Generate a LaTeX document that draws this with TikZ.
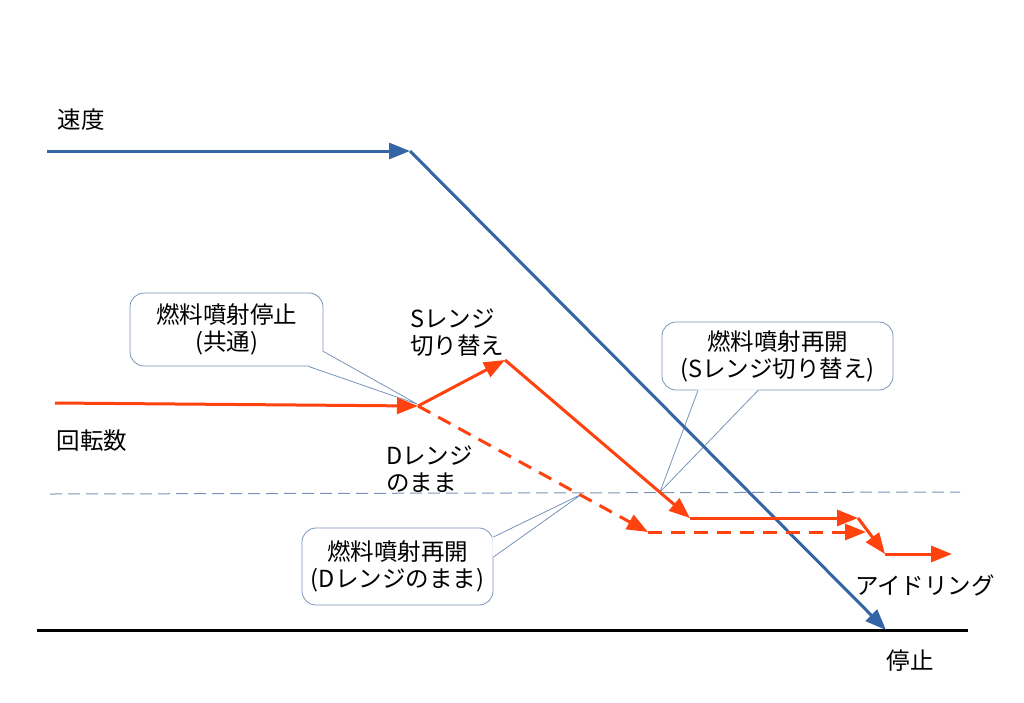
\documentclass[tikz,border=0pt]{standalone}
\usepackage{fontspec}
\setmainfont{Noto Sans CJK JP}
\usetikzlibrary{arrows.meta}

\definecolor{speedblue}{HTML}{3465A4}
\definecolor{rpmorange}{HTML}{FF420E}
\definecolor{noteline}{HTML}{7A93B8}

\begin{document}
\begin{tikzpicture}[x=1pt, y=-1pt,
    txt/.style={font=\fontsize{23.5}{27}\selectfont, inner sep=0pt, align=center},
    bubble/.style={draw=noteline, line width=0.8pt, fill=white, rounded corners=14pt,
        inner sep=0pt, align=center, font=\fontsize{23.5}{27}\selectfont},
    pointer/.style={draw=noteline, line width=0.8pt},
    speed/.style={draw=speedblue, line width=3pt, -{Triangle[length=21pt,width=16pt]}},
    rpm/.style={draw=rpmorange, line width=3pt, -{Triangle[length=21pt,width=16pt]}},
    rpmd/.style={rpm, dash pattern=on 14pt off 9pt},
    level/.style={draw=noteline, line width=1pt, dash pattern=on 12pt off 6pt}
]
    \useasboundingbox (0,0) rectangle (1024,702);

    % callouts
    \node[bubble, minimum width=193pt, minimum height=73pt] (stopnote) at (226.5,329.5)
        {燃料噴射停止\\(共通)};
    \node[bubble, minimum width=231pt, minimum height=68pt] (snote) at (777.5,356)
        {燃料噴射再開\\(Sレンジ切り替え)};
    \node[bubble, minimum width=191pt, minimum height=77pt] (dnote) at (397.5,566.5)
        {燃料噴射再開\\(Dレンジのまま)};
    \coordinate (stoptip) at (417,404);
    \coordinate (stip) at (660,492);
    \coordinate (dtip) at (582,494);

    \fill[white] ([xshift=-1pt,yshift=15pt]stopnote.south east) -- (stoptip)
        -- ([xshift=-15pt,yshift=1pt]stopnote.south east) -- cycle;
    \draw[pointer] ([yshift=15pt]stopnote.south east) -- (stoptip)
        -- ([xshift=-15pt]stopnote.south east);
    \fill[white] ([xshift=-79.5pt,yshift=1pt]snote.south) -- (stip)
        -- ([xshift=-19.5pt,yshift=1pt]snote.south) -- cycle;
    \draw[pointer] ([xshift=-79.5pt]snote.south) -- (stip)
        -- ([xshift=-19.5pt]snote.south);
    \fill[white] ([xshift=-1pt,yshift=29.5pt]dnote.east) -- (dtip)
        -- ([xshift=-1pt,yshift=9.5pt]dnote.east) -- cycle;
    \draw[pointer] ([yshift=29.5pt]dnote.east) -- (dtip)
        -- ([yshift=9.5pt]dnote.east);

    % axes and level
    \coordinate (base0) at (37,630);
    \coordinate (base1) at (968,630);
    \coordinate (lev0) at (50,494);
    \coordinate (lev1) at (960,492);
    \draw[line width=3pt] (base0) -- (base1);
    \draw[level] (lev0) -- (lev1);

    % speed
    \coordinate (v0) at (47,151);
    \coordinate (vbrake) at (410,151);
    \coordinate (vstop) at (886,630);
    \draw[speed] (v0) -- (vbrake);
    \draw[speed] (vbrake) -- (vstop);

    % engine speed
    \coordinate (r0) at (55,403);
    \coordinate (rcut) at (418,406);
    \coordinate (rs) at (505,360);
    \coordinate (rsres) at (690,518);
    \coordinate (rsflat) at (858,518);
    \coordinate (ridle) at (885,554);
    \coordinate (rend) at (952,554);
    \coordinate (rdres) at (648,532);
    \coordinate (rdflat) at (866,532);
    \draw[rpm] (r0) -- (rcut);
    \draw[rpm] (rcut) -- (rs);
    \draw[rpm] (rs) -- (rsres);
    \draw[rpm] (rsres) -- (rsflat);
    \draw[rpm] (rsflat) -- (ridle);
    \draw[rpm] (ridle) -- (rend);
    \draw[rpmd] (rcut) -- (rdres);
    \draw[rpmd] (rdres) -- (rdflat);

    % labels
    \node[txt] (speedlbl) at (81,120) {速度};
    \node[txt] (rpmlbl) at (92,441) {回転数};
    \node[txt, align=left, anchor=west] (slbl) at (410,332.5) {Sレンジ\\切り替え};
    \node[txt, align=left, anchor=west] (dlbl) at (386,469.5) {Dレンジ\\のまま};
    \node[txt] (idlelbl) at (925,585) {アイドリング};
    \node[txt] (stoplbl) at (910,661) {停止};
\end{tikzpicture}
\end{document}
